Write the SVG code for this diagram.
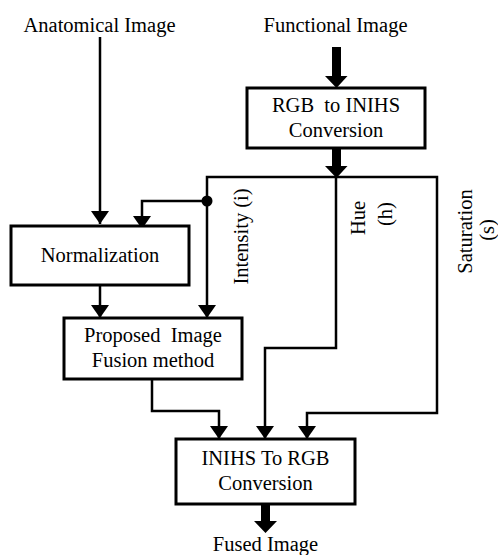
<svg xmlns="http://www.w3.org/2000/svg" width="498" height="555" viewBox="0 0 498 555">
<defs>
<style>
text{font-family:'Liberation Serif','DejaVu Serif','Times New Roman',serif;font-size:20.5px;fill:#000;text-anchor:middle;white-space:pre}
.box{fill:#fff;stroke:#000;stroke-width:3}
.ln{fill:none;stroke:#000;stroke-width:2.5;stroke-linejoin:miter}
.arr{marker-end:url(#ah)}
.thick{fill:#000;stroke:none}
</style>
<marker id="ah" viewBox="0 0 13 18" refX="13" refY="9" markerWidth="13" markerHeight="18" markerUnits="userSpaceOnUse" orient="auto">
<path d="M0,0 L13,9 L0,18 Z" fill="#000"/>
</marker>
</defs>
<rect width="498" height="555" fill="#fff"/>
<g id="connectors">
<path class="ln arr" d="M100,37 V224"/>
<path class="ln arr" d="M207,201 H142 V229"/>
<path class="ln arr" d="M100,285 V318"/>
<path class="ln arr" d="M336,177 H207 V318"/>
<path class="ln arr" d="M336,177 V348 H265 V439"/>
<path class="ln arr" d="M336,177 H437 V413 H307 V439"/>
<path class="ln arr" d="M152,379 V411 H219 V439"/>
<circle cx="207" cy="201" r="5.5" fill="#000"/>
<path class="thick" d="M332,47 H341 V76 H347.5 L336.5,88 L325,76 H332 Z"/>
<path class="thick" d="M332,148 H341 V166 H347.5 L336.5,178 L325,166 H332 Z"/>
<path class="thick" d="M261,504 H270 V521 H277 L265.5,533 L254,521 H261 Z"/>
<text font-family="Liberation Serif, DejaVu Serif, serif" transform="translate(248,236.5) rotate(-90)">Intensity (i)</text>
<text font-family="Liberation Serif, DejaVu Serif, serif" transform="translate(365,218) rotate(-90)">Hue</text>
<text font-family="Liberation Serif, DejaVu Serif, serif" transform="translate(392,214) rotate(-90)">(h)</text>
<text font-family="Liberation Serif, DejaVu Serif, serif" transform="translate(472,231.5) rotate(-90)">Saturation</text>
<text font-family="Liberation Serif, DejaVu Serif, serif" transform="translate(494,230) rotate(-90)">(s)</text>
</g>
<g id="anatomical"><text x="99.5" y="32">Anatomical Image</text></g>
<g id="functional"><text x="335.5" y="32">Functional Image</text></g>
<g id="rgb2inihs">
<rect class="box" x="247" y="88" width="178" height="60"/>
<text x="336" y="112">RGB  to INIHS</text>
<text x="336" y="137">Conversion</text>
</g>
<g id="normalization">
<rect class="box" x="11" y="226" width="178" height="59"/>
<text x="100" y="262">Normalization</text>
</g>
<g id="fusion">
<rect class="box" x="64" y="318" width="178" height="61"/>
<text x="153" y="342">Proposed  Image</text>
<text x="153" y="367">Fusion method</text>
</g>
<g id="inihs2rgb">
<rect class="box" x="176" y="439" width="179" height="65"/>
<text x="265.5" y="465">INIHS To RGB</text>
<text x="265.5" y="490">Conversion</text>
</g>
<g id="fused"><text x="265.5" y="551">Fused Image</text></g>
</svg>
